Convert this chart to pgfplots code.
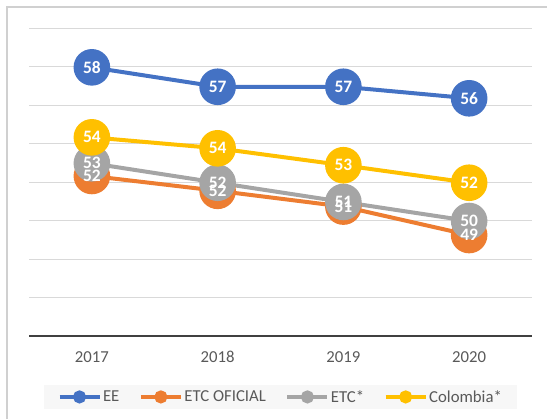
\documentclass[border=0pt]{standalone}
\usepackage{pgfplots}
\pgfplotsset{compat=1.18}
\usepackage{fontspec}
\setmainfont{Carlito}
\definecolor{eeblue}{HTML}{4472C4}
\definecolor{etcorange}{HTML}{ED7D31}
\definecolor{etcgray}{HTML}{A5A5A5}
\definecolor{colyellow}{HTML}{FFC000}
\definecolor{gridgray}{HTML}{D9D9D9}
\definecolor{axisdark}{HTML}{404040}
\definecolor{txtgray}{HTML}{595959}
\definecolor{legbg}{HTML}{F7F7F7}
\definecolor{bordergray}{HTML}{D0D0D0}
\begin{document}
\begin{tikzpicture}[x=1bp,y=1bp]
\path[use as bounding box] (0,0) rectangle (547,419);
\draw[line width=2bp, bordergray] (7,0) -- (7,412) -- (547,412);
\begin{axis}[
  at={(29bp,83bp)}, anchor=south west,
  scale only axis, width=503bp, height=307.7bp,
  xmin=-0.5, xmax=3.5, ymin=44, ymax=60,
  xtick={0,1,2,3}, xticklabels={2017,2018,2019,2020},
  ytick={46,48,...,60}, yticklabels={},
  ymajorgrids, grid style={gridgray, line width=1bp},
  extra y ticks={44}, extra y tick labels={},
  extra y tick style={grid style={axisdark, line width=2.2bp}},
  axis line style={draw=none},
  major tick length=0pt,
  tick style={draw=none},
  xticklabel style={font=\fontsize{16.8}{20}\selectfont, text=txtgray, yshift=-12bp},
  /pgf/number format/assume math mode=true,
  clip=false,
  legend columns=4,
  legend style={at={(0.5,-0.198)}, anchor=center, fill=legbg, draw=none,
    font=\fontsize{16.8}{20}\selectfont, text=txtgray,
    inner xsep=14bp, inner ysep=3bp,
    nodes={inner xsep=1.5bp},
    /tikz/every even column/.append style={column sep=18bp}},
  legend image code/.code={%
    \draw[#1, mark=none, line width=4bp] (0bp,0bp) -- (40bp,0bp);
    \fill[#1] (20bp,0bp) circle (4.5bp);},
]
\addplot[eeblue, line width=4bp, mark=*, mark size=16.3bp, mark options={solid}] table {
x y
0 57.97
1 56.96
2 56.96
3 56.36
};
\addlegendentry{EE}
\addplot[etcorange, line width=4bp, mark=*, mark size=16.3bp, mark options={solid}] table {
x y
0 52.32
1 51.55
2 50.73
3 49.25
};
\addlegendentry{ETC OFICIAL}
\addplot[etcgray, line width=4bp, mark=*, mark size=16.3bp, mark options={solid}] table {
x y
0 52.98
1 51.97
2 50.97
3 49.98
};
\addlegendentry{ETC*}
\addplot[colyellow, line width=4bp, mark=*, mark size=16.3bp, mark options={solid}] table {
x y
0 54.33
1 53.76
2 52.88
3 51.97
};
\addlegendentry{Colombia*}
% data labels
\pgfplotsset{lbl/.style={draw=none, mark=none, forget plot, nodes near coords,
  point meta=explicit symbolic, nodes near coords align=center,
  every node near coord/.append style={anchor=center, text=white, inner sep=0pt,
  font=\fontsize{17.5}{20}\selectfont\bfseries}}}
\addplot[lbl] table[meta=l] {
x y l
0 57.97 58
1 56.96 57
2 56.96 57
3 56.36 56
};
\addplot[lbl] table[meta=l] {
x y l
0 52.32 52
1 51.55 52
2 50.73 51
3 49.25 49
};
\addplot[lbl] table[meta=l] {
x y l
0 52.98 53
1 51.97 52
2 50.97 51
3 49.98 50
};
\addplot[lbl] table[meta=l] {
x y l
0 54.33 54
1 53.76 54
2 52.88 53
3 51.97 52
};
\end{axis}
\end{tikzpicture}
\end{document}
